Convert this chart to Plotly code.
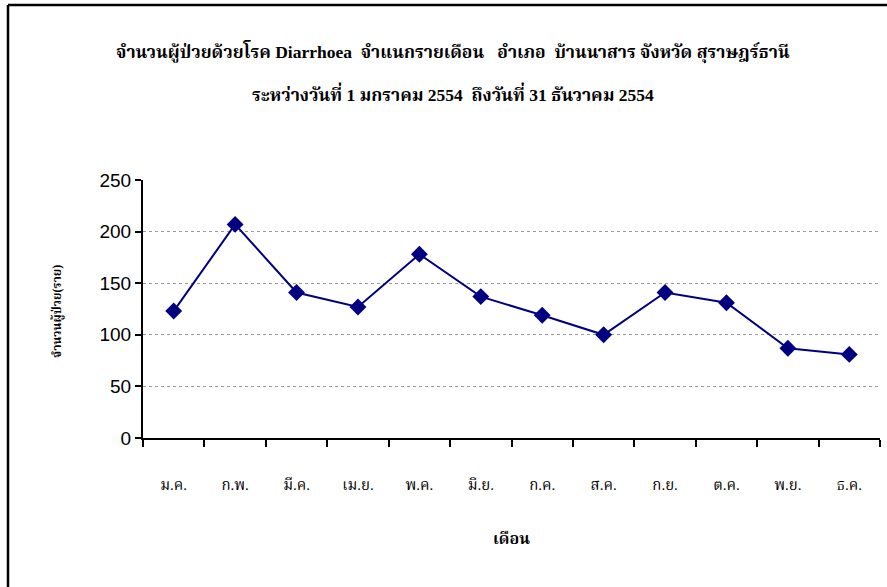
import plotly.graph_objects as go

months = ["ม.ค.", "ก.พ.", "มี.ค.", "เม.ย.", "พ.ค.", "มิ.ย.", "ก.ค.", "ส.ค.", "ก.ย.", "ต.ค.", "พ.ย.", "ธ.ค."]
cases = [123, 207, 141, 127, 178, 137, 119, 100, 141, 131, 87, 81]
y_ticks = [0, 50, 100, 150, 200, 250]

title_line1 = "จำนวนผู้ป่วยด้วยโรค Diarrhoea  จำแนกรายเดือน   อำเภอ  บ้านนาสาร จังหวัด สุราษฎร์ธานี"
title_line2 = "ระหว่างวันที่ 1 มกราคม 2554  ถึงวันที่ 31 ธันวาคม 2554"
y_title = "จำนวนผู้ป่วย(ราย)"
x_title = "เดือน"

serif = "Liberation Serif, Noto Serif Thai, Noto Sans Thai, serif"

fig = go.Figure(go.Scatter(
    x=months, y=cases, mode="lines+markers",
    line=dict(color="#000080", width=2),
    marker=dict(symbol="diamond", size=13, color="#000080"),
))

W, H = 887, 587
L, R, T, B = 143, 880, 180, 438
def px(x): return (x - L) / (R - L)
def py(y): return (B - y) / (B - T)

fig.update_layout(
    width=W, height=H,
    margin=dict(l=L, r=W - R, t=T, b=H - B),
    paper_bgcolor="white", plot_bgcolor="white",
    showlegend=False,
    xaxis=dict(
        type="category", tickson="boundaries", ticks="outside", ticklen=7,
        tickwidth=2, tickcolor="black", showline=True, linecolor="black", linewidth=2,
        showgrid=False, tickfont=dict(family=serif, size=15, color="black"),
        ticklabelstandoff=32, range=[-0.5, 11.5],
        title=dict(text=x_title, font=dict(family=serif, size=16, color="black", weight="bold"), standoff=41),
    ),
    yaxis=dict(
        range=[0, 250], tickvals=y_ticks, ticks="outside", ticklen=6, tickwidth=2,
        tickcolor="black", showline=True, linecolor="black", linewidth=2,
        showgrid=True, gridcolor="#9a9a9a", griddash="dot", gridwidth=1,
        tickfont=dict(family="Liberation Sans, Arial, sans-serif", size=19, color="black"),
        zeroline=False,
    ),
    annotations=[
        dict(text="<b>" + title_line1 + "</b>", xref="paper", yref="paper", x=px(453), y=py(52),
             showarrow=False, font=dict(family=serif, size=17.5, color="black"), xanchor="center", yanchor="middle"),
        dict(text="<b>" + title_line2 + "</b>", xref="paper", yref="paper", x=px(453), y=py(93),
             showarrow=False, font=dict(family=serif, size=17.5, color="black"), xanchor="center", yanchor="middle"),
        dict(text="<b>" + y_title + "</b>", xref="paper", yref="paper", x=px(57), y=py(312),
             showarrow=False, textangle=-90, font=dict(family=serif, size=12, color="black"),
             xanchor="center", yanchor="middle"),
    ],
    shapes=[
        dict(type="line", xref="paper", yref="paper", x0=px(8), x1=px(8), y0=py(640), y1=py(5),
             line=dict(color="black", width=2.5), layer="below"),
        dict(type="line", xref="paper", yref="paper", x0=px(8), x1=px(940), y0=py(5), y1=py(5),
             line=dict(color="black", width=2.5), layer="below"),
    ],
)

fig.write_html("out.html", config={"displayModeBar": False},
               post_script="document.body.style.margin='0';document.body.style.overflow='hidden';")
